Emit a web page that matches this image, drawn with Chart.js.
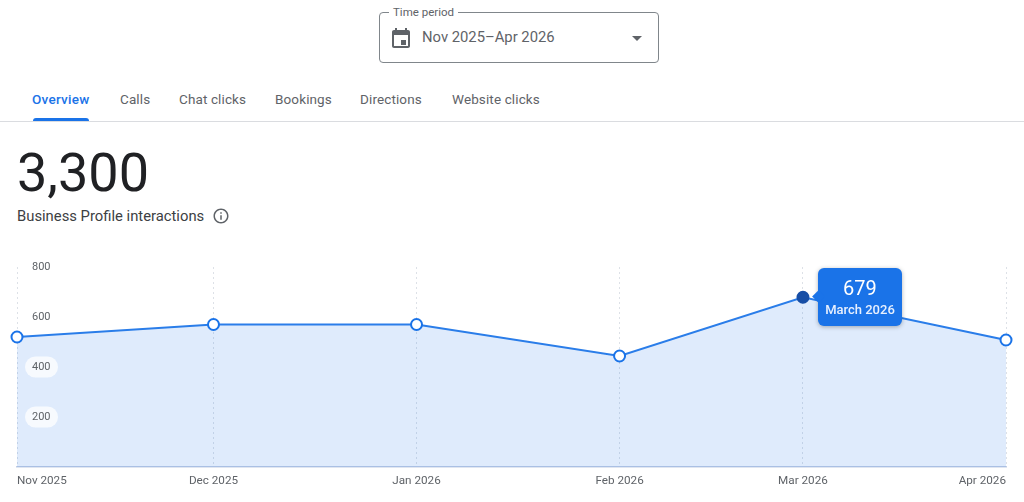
<!DOCTYPE html>
<html>
<head>
<meta charset="utf-8">
<title>Business Profile interactions</title>
<script src="https://cdn.jsdelivr.net/npm/chart.js@4/dist/chart.umd.min.js"></script>
<style>
  html, body { margin: 0; padding: 0; background: #fff; }
  body { width: 1024px; height: 502px; position: relative; overflow: hidden; font-family: Roboto, sans-serif; color: #202124; }
  .abs { position: absolute; white-space: nowrap; }
  #picker { left: 379px; top: 12px; width: 278px; height: 49px; border: 1px solid #80868b; border-radius: 4px; }
  #pickerLabel { left: 389px; top: 5px; padding: 0 4px; background: #fff; font-size: 11.5px; line-height: 14px; color: #5f6368; }
  #pickerText { left: 422px; top: 27px; font-size: 14.8px; line-height: 20px; color: #5f6368; }
  .tab { top: 91px; font-size: 13.5px; line-height: 17px; font-weight: 400; letter-spacing: 0.12px; color: #5f6368; }
  #underline { left: 33px; top: 118px; width: 56px; height: 3px; background: #1a73e8; border-radius: 3px 3px 0 0; }
  #divider { left: 0; top: 121px; width: 1024px; height: 1px; background: #dadce0; }
  #total { left: 17px; top: 143px; font-size: 54px; line-height: 60px; color: #202124; }
  #subtitle { left: 17px; top: 207px; font-size: 14.8px; line-height: 18px; color: #3c4043; }
  #wrap { left: 0; top: 250px; width: 1024px; height: 252px; }
  canvas { display: block; }
  #tip { position: absolute; width: 84px; height: 58px; background: #1a73e8; border-radius: 6px; color: #fff; text-align: center; box-shadow: 0 1px 4px rgba(60,64,67,.4); }
  #tip:before { content: ""; position: absolute; left: -4px; top: 24px; width: 9px; height: 9px; background: #1a73e8; transform: rotate(45deg); }
  #tipValue { position: relative; font-size: 20px; line-height: 24px; margin-top: 8px; }
  #tipLabel { position: relative; font-size: 13px; line-height: 15px; font-weight: 500; margin-top: 2px; color: #e8f0fe; }
</style>
</head>
<body>
<div class="abs" id="picker"></div>
<div class="abs" id="pickerLabel">Time period</div>
<svg class="abs" style="left:389px;top:26px" width="24" height="24" viewBox="0 0 24 24" fill="#5f6368"><path d="M19 4h-1V2h-2v2H8V2H6v2H5c-1.1 0-2 .9-2 2v14c0 1.1.9 2 2 2h14c1.1 0 2-.9 2-2V6c0-1.100-.9-2-2-2zm0 16H5V9h14v11zm-7-6h5v5h-5z"/></svg>
<div class="abs" id="pickerText">Nov 2025–Apr 2026</div>
<svg class="abs" style="left:625px;top:26px" width="24" height="24" viewBox="0 0 24 24" fill="#5f6368"><path d="M7 10l5 5 5-5z"/></svg>

<div class="abs tab" style="left:32px;color:#1a73e8;font-weight:500;letter-spacing:0.25px">Overview</div>
<div class="abs tab" style="left:120px">Calls</div>
<div class="abs tab" style="left:179px">Chat clicks</div>
<div class="abs tab" style="left:275px">Bookings</div>
<div class="abs tab" style="left:360px">Directions</div>
<div class="abs tab" style="left:452px">Website clicks</div>
<div class="abs" id="underline"></div>
<div class="abs" id="divider"></div>

<div class="abs" id="total">3,300</div>
<div class="abs" id="subtitle">Business Profile interactions</div>
<svg class="abs" style="left:212px;top:207px" width="18" height="18" viewBox="0 0 24 24" fill="#5f6368"><path d="M11 7h2v2h-2zm0 4h2v6h-2zm1-9C6.480 2 2 6.480 2 12s4.480 10 10 10 10-4.480 10-10S17.520 2 12 2zm0 18c-4.410 0-8-3.590-8-8s3.590-8 8-8 8 3.590 8 8-3.590 8-8 8z"/></svg>

<div class="abs" id="wrap">
  <canvas id="chart" width="1024" height="252"></canvas>
  <div id="tip" style="display:none"><div id="tipValue"></div><div id="tipLabel"></div></div>
</div>

<script>
const monthLabels = ["Nov 2025", "Dec 2025", "Jan 2026", "Feb 2026", "Mar 2026", "Apr 2026"];
const fullLabels = ["November 2025", "December 2025", "January 2026", "February 2026", "March 2026", "April 2026"];
// days since 1 Nov 2025, the axis is true to calendar length
const dayOffsets = [0, 30, 61, 92, 120, 151];
const interactions = [520, 570, 570, 444, 679, 508];
const activeIndex = 4;

const blue = "#2a7de9";

// soft pills behind the y labels, the fill shows them on 400 and 200
const tickPills = {
  id: "tickPills",
  afterDatasetsDraw(chart) {
    const ctx = chart.ctx;
    const y = chart.scales.y;
    ctx.save();
    ctx.fillStyle = "rgba(255,255,255,0.75)";
    y.ticks.forEach((t) => {
      if (!t.value) return;
      ctx.beginPath();
      ctx.roundRect(chart.chartArea.left + 8, y.getPixelForValue(t.value) - 10.5, 33, 21, 10.5);
      ctx.fill();
    });
    ctx.restore();
  },
};

const externalTip = (context) => {
  const el = document.getElementById("tip");
  const tooltip = context.tooltip;
  if (!tooltip.dataPoints || !tooltip.dataPoints.length) return;
  const point = tooltip.dataPoints[0];
  document.getElementById("tipValue").textContent = point.raw.y;
  document.getElementById("tipLabel").textContent = fullLabels[point.dataIndex];
  el.style.display = "block";
  el.style.left = tooltip.caretX + 15 + "px";
  el.style.top = tooltip.caretY - 29.5 + "px";
};

const chart = new Chart(document.getElementById("chart"), {
  type: "line",
  data: {
    datasets: [
      {
        data: dayOffsets.map((d, i) => ({ x: d, y: interactions[i] })),
        borderColor: blue,
        borderWidth: 2,
        backgroundColor: "rgba(26,115,232,0.14)",
        fill: "origin",
        tension: 0,
        clip: false,
        pointRadius: 5.5,
        pointHoverRadius: 5.5,
        pointBorderWidth: 2,
        pointHoverBorderWidth: 2,
        pointBorderColor: interactions.map((v, i) => (i === activeIndex ? "#174ea6" : "#1a73e8")),
        pointHoverBorderColor: "#174ea6",
        pointBackgroundColor: interactions.map((v, i) => (i === activeIndex ? "#174ea6" : "#fff")),
        pointHoverBackgroundColor: "#174ea6",
      },
    ],
  },
  options: {
    responsive: false,
    animation: false,
    events: [],
    layout: { autoPadding: false, padding: { left: 17, right: 18, top: 17, bottom: 0 } },
    plugins: {
      legend: { display: false },
      tooltip: { enabled: false, external: externalTip },
    },
    scales: {
      x: {
        type: "linear",
        min: 0,
        max: 151,
        afterBuildTicks: (scale) => {
          scale.ticks = dayOffsets.map((d) => ({ value: d }));
        },
        afterFit: (scale) => {
          scale.height = 35;
        },
        grid: { color: "#dde1e7", drawTicks: false },
        border: { color: "#c2cde3", width: 1.5, dash: [2, 3] },
        ticks: {
          autoSkip: false,
          maxRotation: 0,
          align: "inner",
          padding: 7,
          color: "#5f6368",
          font: { family: "Roboto", size: 11.7 },
          callback: (v, i) => monthLabels[i],
        },
      },
      y: {
        min: 0,
        max: 800,
        afterFit: (scale) => {
          // mirrored labels, keep the tick padding out of the layout
          scale.width = 0;
          scale.paddingTop = 0;
          scale.paddingBottom = 0;
        },
        grid: { display: false },
        border: { display: false },
        ticks: {
          mirror: true,
          z: 1,
          padding: 15,
          stepSize: 200,
          color: "#5f6368",
          font: { family: "Roboto", size: 11 },
          callback: (v) => (v === 0 ? "" : v),
        },
      },
    },
  },
  plugins: [tickPills],
});

chart.setActiveElements([{ datasetIndex: 0, index: activeIndex }]);
chart.tooltip.setActiveElements([{ datasetIndex: 0, index: activeIndex }], { x: 0, y: 0 });
chart.update();
</script>
</body>
</html>
